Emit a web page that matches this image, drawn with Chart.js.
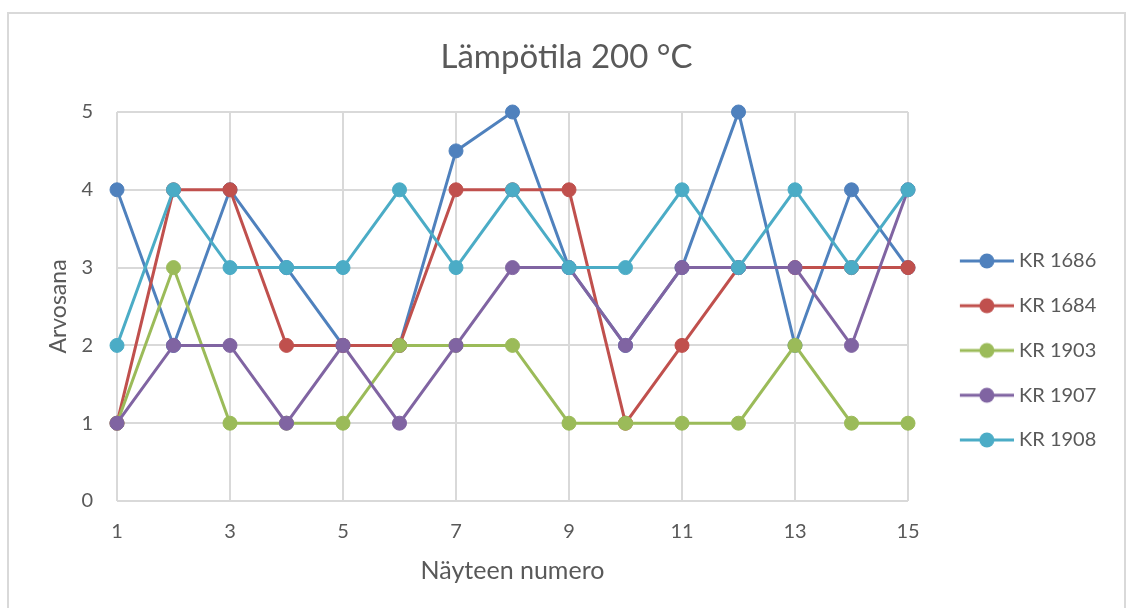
<!DOCTYPE html>
<html>
<head>
<meta charset="utf-8">
<script src="https://cdn.jsdelivr.net/npm/chart.js@4/dist/chart.umd.min.js"></script>
<style>
  html, body { margin: 0; padding: 0; background: #ffffff; }
  #wrap { width: 1127px; height: 608px; position: relative; }
  canvas { display: block; }
</style>
</head>
<body>
<div id="wrap"><canvas id="chart" width="1127" height="608"></canvas></div>
<script>
// Sample numbers along the x axis
const sampleNumbers = [1, 2, 3, 4, 5, 6, 7, 8, 9, 10, 11, 12, 13, 14, 15];

// Grades per sample, one array per series
const kr1686 = [4, 2, 4, 3, 2, 2, 4.5, 5, 3, 2, 3, 5, 2, 4, 3];
const kr1684 = [1, 4, 4, 2, 2, 2, 4, 4, 4, 1, 2, 3, 3, 3, 3];
const kr1903 = [1, 3, 1, 1, 1, 2, 2, 2, 1, 1, 1, 1, 2, 1, 1];
const kr1907 = [1, 2, 2, 1, 2, 1, 2, 3, 3, 2, 3, 3, 3, 2, 4];
const kr1908 = [2, 4, 3, 3, 3, 4, 3, 4, 3, 3, 4, 3, 4, 3, 4];

const seriesNames = ['KR 1686', 'KR 1684', 'KR 1903', 'KR 1907', 'KR 1908'];
const seriesValues = [kr1686, kr1684, kr1903, kr1907, kr1908];

// Axis tick labels
const xTickValues = [1, 3, 5, 7, 9, 11, 13, 15];
const yTickValues = [0, 1, 2, 3, 4, 5];

const chartTitle = 'Lämpötila 200 °C';
const xAxisTitle = 'Näyteen numero';
const yAxisTitle = 'Arvosana';

// ---- styling ----
const seriesColors = ['#4F81BD', '#C0504D', '#9BBB59', '#8064A2', '#4BACC6'];
const textColor = '#595959';
const gridColor = '#d9d9d9';
const fontFamily = 'Lato';
const tickFont = { family: fontFamily, size: 20 };
const legendFont = { family: fontFamily, size: 20 };
const xTitleFont = { family: fontFamily, size: 25 };
const yTitleFont = { family: fontFamily, size: 23 };

// plot rectangle and legend geometry
const W = 1127, H = 608;
const plotLeft = 117, plotRight = 908, plotTop = 112, plotBottom = 501;
const legendGap = 24.75;   // vertical spacing between legend rows (plus font size)
const legendBox = 76.25;   // room reserved before the legend text

const measureCtx = document.createElement('canvas').getContext('2d');
measureCtx.font = legendFont.size + 'px ' + legendFont.family;
const legendTextW = Math.max(...seriesNames.map(n => measureCtx.measureText(n).width));
const legendW = legendGap + legendBox + legendFont.size / 2 + legendTextW + 10;
const padRight = W - plotRight - legendW;
const padLeft = 6 + padRight;

// legend glyph: short line with a round marker, placed right before the text
function legendGlyph(color) {
  const half = legendBox / 2 + 5;
  const c = document.createElement('canvas');
  c.width = Math.round(half * 2);
  c.height = 18;
  const g = c.getContext('2d');
  const x0 = c.width - 54, x1 = c.width;
  g.strokeStyle = color;
  g.lineWidth = 3;
  g.beginPath();
  g.moveTo(x0, 9);
  g.lineTo(x1, 9);
  g.stroke();
  g.fillStyle = color;
  g.beginPath();
  g.arc((x0 + x1) / 2, 9, 7.5, 0, Math.PI * 2);
  g.fill();
  return c;
}
const legendGlyphs = seriesColors.map(legendGlyph);

// light frame around the whole chart
const framePlugin = {
  id: 'frame',
  beforeDraw(chart) {
    const ctx = chart.ctx;
    ctx.save();
    ctx.fillStyle = '#ffffff';
    ctx.fillRect(0, 0, chart.width, chart.height);
    ctx.strokeStyle = gridColor;
    ctx.lineWidth = 2;
    ctx.strokeRect(8, 13, 1117, 640);
    ctx.restore();
  }
};

const datasets = seriesNames.map((name, i) => ({
  label: name,
  data: sampleNumbers.map((x, j) => ({ x: x, y: seriesValues[i][j] })),
  borderColor: seriesColors[i],
  backgroundColor: seriesColors[i],
  pointBackgroundColor: seriesColors[i],
  pointBorderColor: seriesColors[i],
  pointRadius: 7,
  pointHoverRadius: 7,
  pointBorderWidth: 1,
  borderWidth: 3,
  tension: 0,
  fill: false,
  clip: false,
  order: seriesNames.length - i
}));

new Chart(document.getElementById('chart'), {
  type: 'line',
  data: { datasets: datasets },
  options: {
    responsive: false,
    animation: false,
    devicePixelRatio: 1,
    layout: { padding: { left: padLeft, right: padRight, top: 0, bottom: 0 } },
    plugins: {
      title: {
        display: true,
        text: chartTitle,
        color: textColor,
        font: { family: fontFamily, size: 33, weight: 'normal' },
        padding: { top: 37.2, bottom: 35.2 }
      },
      legend: {
        position: 'right',
        align: 'center',
        title: { display: true, text: ' ', font: { size: 10 }, padding: { top: 81, bottom: 0 } },
        labels: {
          usePointStyle: true,
          pointStyleWidth: legendBox,
          padding: legendGap,
          color: textColor,
          font: legendFont,
          sort: (a, b) => a.datasetIndex - b.datasetIndex,
          generateLabels(chart) {
            const items = Chart.defaults.plugins.legend.labels.generateLabels(chart);
            items.forEach(it => { it.pointStyle = legendGlyphs[it.datasetIndex]; });
            return items;
          }
        }
      },
      tooltip: { enabled: false }
    },
    scales: {
      x: {
        type: 'linear',
        min: 1,
        max: 15,
        afterBuildTicks: s => { s.ticks = xTickValues.map(v => ({ value: v })); },
        afterFit: s => { s.height = H - plotBottom; },
        grid: { color: gridColor, lineWidth: 2, drawTicks: false },
        border: { display: false },
        ticks: { color: textColor, font: tickFont, padding: 18.5, maxRotation: 0, autoSkip: false },
        title: {
          display: true, text: xAxisTitle, color: textColor, font: xTitleFont,
          padding: { top: 0, bottom: 37 - xTitleFont.size * 0.6 }
        }
      },
      y: {
        type: 'linear',
        min: 0,
        max: 5,
        afterBuildTicks: s => { s.ticks = yTickValues.map(v => ({ value: v })); },
        afterFit: s => { s.width = plotLeft - padLeft; },
        grid: { color: gridColor, lineWidth: 2, drawTicks: false },
        border: { display: false },
        ticks: { color: textColor, font: tickFont, padding: 24 },
        title: {
          display: true, text: yAxisTitle, color: textColor, font: yTitleFont,
          padding: { top: 59 - padLeft - yTitleFont.size * 0.6, bottom: 0 }
        }
      }
    }
  },
  plugins: [framePlugin]
});
</script>
</body>
</html>
